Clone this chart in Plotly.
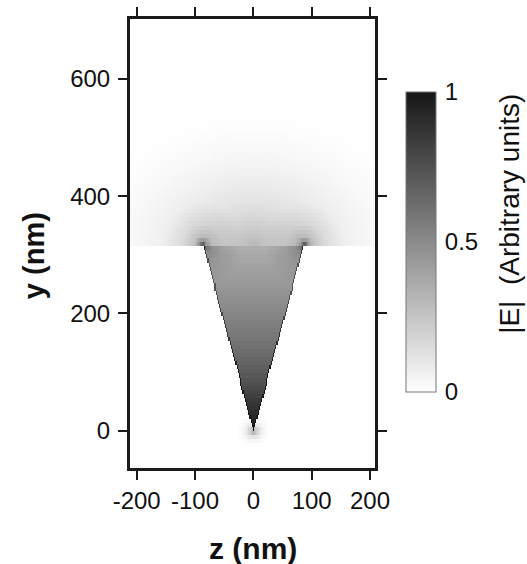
import numpy as np
import plotly.graph_objects as go

# ---- values ----
# |E| along the cone axis (y in nm -> normalised field)
cone_axis_y = [0, 15, 30, 50, 75, 100, 150, 200, 250, 300, 318]
cone_axis_val = [1.0, 0.96, 0.91, 0.85, 0.77, 0.7, 0.6, 0.52, 0.44, 0.37, 0.33]
# cone geometry (tip at origin, flat top)
cone_top_y = 318
cone_top_halfwidth = 87
edge_boost = 0.3
# halo above the cone top (distance from top centre -> |E|)
halo_rho = [0, 20, 50, 80, 120, 160, 200, 230]
halo_val = [0.3, 0.24, 0.16, 0.11, 0.065, 0.03, 0.008, 0.0]
halo_aspect = 1.3
# hot spots at the two top corners (distance -> |E|)
corner_dist = [0, 6, 15, 35, 70]
corner_val = [0.6, 0.32, 0.15, 0.06, 0.0]
# glow round the tip (distance -> |E|)
tip_dist = [0, 5, 10, 18, 28]
tip_val = [0.45, 0.25, 0.12, 0.04, 0.0]

# axis ticks
x_ticks = [-200, -100, 0, 100, 200]
x_ticktext = ["-200", "-100", "0", "100", "200"]
y_ticks = [0, 200, 400, 600]
cb_ticks = [0, 0.5, 1]
cb_ticktext = ["0", "0.5", "1"]

# ---- build the field table for the heatmap ----
cell_z, cell_y = 2.0, 7.0
zc = np.arange(-212.0, 213.0, cell_z)
yc = np.arange(-66.5, 708.0, cell_y)
Z, Y = np.meshgrid(zc, yc)
half = cone_top_halfwidth * Y / cone_top_y
inside = (Y >= 0) & (Y <= cone_top_y) & (np.abs(Z) <= half)
above = Y > cone_top_y

val = np.zeros_like(Z)
val[inside] = np.interp(Y[inside], cone_axis_y, cone_axis_val)
edge = inside & ((half - np.abs(Z)) < cell_z)
val[edge] += edge_boost

rho = np.sqrt((Z / halo_aspect) ** 2 + (Y - cone_top_y) ** 2)
val[above] = np.interp(rho[above], halo_rho, halo_val)

dc = np.minimum(np.hypot(Z - cone_top_halfwidth, Y - cone_top_y),
                np.hypot(Z + cone_top_halfwidth, Y - cone_top_y))
m = above | inside
val[m] += np.interp(dc[m], corner_dist, corner_val)

dt = np.hypot(Z, Y)
nm = ~inside
val[nm] += np.interp(dt[nm], tip_dist, tip_val)
val = np.clip(val, 0, 1)

FONT = "Liberation Sans, Arial"

fig = go.Figure()
fig.add_trace(go.Heatmap(
    x=zc, y=yc, z=val, zmin=0, zmax=1, zsmooth=False,
    colorscale=[[0, "#ffffff"], [1, "#161616"]],
    colorbar=dict(
        x=1.1265, xanchor="left", xpad=0,
        y=0.5033, yanchor="middle", ypad=0,
        len=300, lenmode="pixels", thickness=30, thicknessmode="pixels",
        outlinewidth=1, outlinecolor="#777777",
        tickvals=cb_ticks, ticktext=cb_ticktext,
        ticks="outside", ticklen=4, tickcolor="rgba(0,0,0,0)",
        tickfont=dict(family=FONT, size=24, color="#111111"),
    ),
    showscale=True,
))

axis_common = dict(
    showline=True, linewidth=3, linecolor="#1a1a1a", mirror="allticks",
    ticks="outside", ticklen=9, tickwidth=2, tickcolor="#1a1a1a",
    showgrid=False, zeroline=False,
    tickfont=dict(family=FONT, size=24, color="#111111"),
)

fig.update_layout(
    width=527, height=564,
    margin=dict(l=130, r=152, t=19, b=96, autoexpand=False),
    paper_bgcolor="white", plot_bgcolor="white",
    xaxis=dict(range=[-211.4, 208.6], tickvals=x_ticks, ticktext=x_ticktext, **axis_common),
    yaxis=dict(range=[-63.6, 702], tickvals=y_ticks, ticklabelstandoff=3, **axis_common),
    annotations=[
        dict(text="<b>z (nm)</b>", xref="paper", yref="paper", x=0.502, y=-0.18,
             xanchor="center", yanchor="middle", showarrow=False,
             font=dict(family=FONT, size=30, color="#111111")),
        dict(text="<b>y (nm)</b>", xref="paper", yref="paper", x=-0.392, y=0.474,
             xanchor="center", yanchor="middle", showarrow=False, textangle=-90,
             font=dict(family=FONT, size=29, color="#111111")),
        dict(text="|E|  (Arbitrary units)", xref="paper", yref="paper", x=1.551, y=0.566,
             xanchor="center", yanchor="middle", showarrow=False, textangle=-90,
             font=dict(family=FONT, size=28, color="#111111")),
    ],
)

fig.write_html("out.html", config={"displayModeBar": False},
               post_script="document.body.style.margin='0';document.body.style.overflow='hidden';")
